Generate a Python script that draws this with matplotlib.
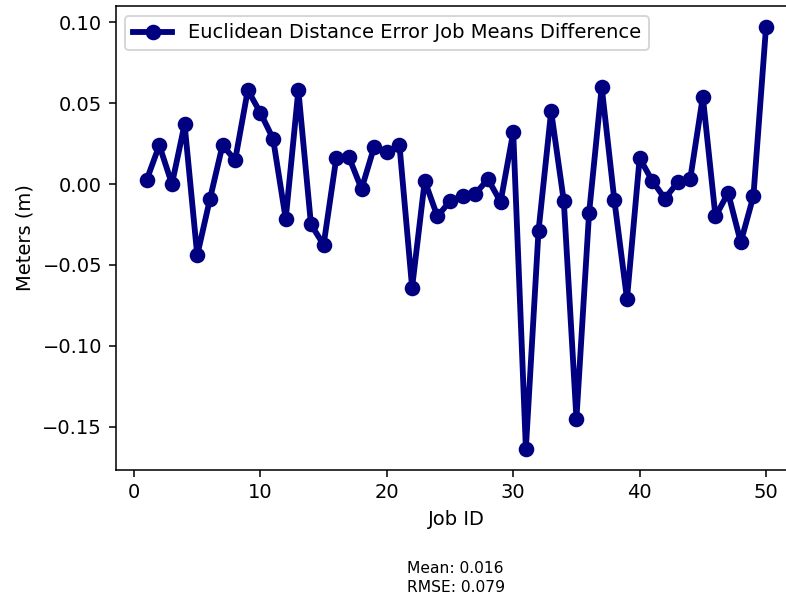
import matplotlib
matplotlib.use("Agg")
import matplotlib.pyplot as plt

job_ids = list(range(1, 51))
diffs = [
    0.0025, 0.024, 0.000, 0.037, -0.044, -0.0095, 0.024, 0.0148, 0.058, 0.044,
    0.028, -0.0215, 0.058, -0.025, -0.0375, 0.016, 0.0167, -0.003, 0.023, 0.020,
    0.024, -0.064, 0.002, -0.020, -0.0105, -0.0075, -0.006, 0.003, -0.011, 0.032,
    -0.1635, -0.029, 0.045, -0.0105, -0.145, -0.018, 0.060, -0.010, -0.071, 0.016,
    0.002, -0.009, 0.001, 0.003, 0.054, -0.020, -0.0055, -0.036, -0.0075, 0.097,
]
mean_text = "Mean: 0.016"
rmse_text = "RMSE: 0.079"

DPI = 140
W, H = 787, 595
fig = plt.figure(figsize=(W / DPI, H / DPI), dpi=DPI)
# plot area runs slightly past the right edge of the canvas
left, right, top, bottom = 115.7, 797.0, 6.0, 469.7
ax = fig.add_axes([left / W, 1 - bottom / H, (right - left) / W, (bottom - top) / H])
ax.plot(job_ids, diffs, color="navy", linewidth=3, marker="o", markersize=7,
        label="Euclidean Distance Error Job Means Difference")
ax.set_xlabel("Job ID")
ax.set_ylabel("Meters (m)")
ax.legend(loc="upper left")
fig.text(407 / W, 1 - 561 / H, mean_text + "\n" + rmse_text,
         ha="left", va="top", fontsize=8, linespacing=1.3)
fig.savefig("out.png", dpi=DPI)
